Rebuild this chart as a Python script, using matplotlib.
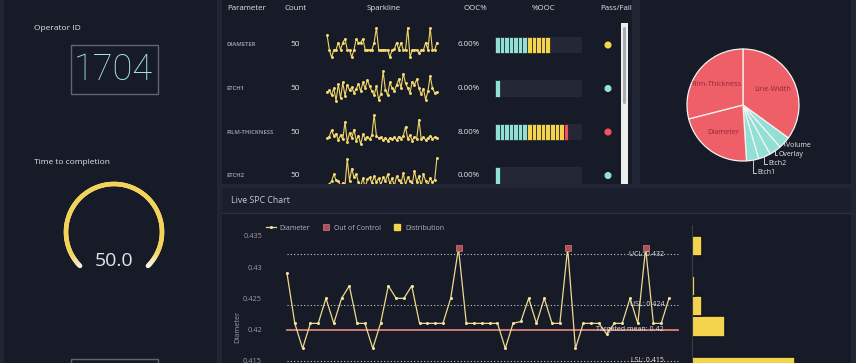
import numpy as np
import matplotlib.pyplot as plt
from matplotlib.patches import Rectangle, FancyBboxPatch
from matplotlib.lines import Line2D
from matplotlib.collections import LineCollection
import matplotlib.transforms as mtransforms

plt.rcParams['font.family'] = ['Open Sans', 'DejaVu Sans']

W, H = 856, 363

# ---------------- data ----------------
operator_id = "1704"
time_value = 50.0
time_max = 50.0

params = ["DIAMETER", "ETCH1", "FILM-THICKNESS", "ETCH2"]
counts = [50, 50, 50, 50]
ooc_pct = [6.00, 0.00, 8.00, 0.00]

diameter = [0.429, 0.421, 0.417, 0.421, 0.421, 0.425, 0.421, 0.425, 0.427, 0.421,
            0.421, 0.417, 0.421, 0.427, 0.425, 0.425, 0.427, 0.421, 0.421, 0.421,
            0.421, 0.425, 0.433, 0.421, 0.421, 0.421, 0.421, 0.421, 0.417, 0.421,
            0.4213, 0.425, 0.421, 0.425, 0.421, 0.421, 0.433, 0.417, 0.421, 0.421,
            0.421, 0.4193, 0.421, 0.421, 0.425, 0.421, 0.433, 0.421, 0.421, 0.425]
etch1 = [4.6, 5.0, 3.8, 5.6, 2.4, 6.6, 3.0, 7.0, 3.6, 6.4, 5.0, 5.8, 4.4, 5.4, 6.6,
         4.8, 7.0, 5.6, 7.6, 6.0, 4.8, 3.8, 6.0, 2.6, 4.2, 9.8, 5.2, 3.8, 7.0, 5.6,
         4.8, 6.4, 7.8, 5.6, 9.2, 6.8, 5.6, 4.4, 7.2, 6.4, 7.8, 5.6, 4.0, 5.4, 2.6,
         4.8, 8.6, 5.6, 4.4, 4.6]
film_thickness = [3.0, 3.4, 5.2, 3.6, 4.2, 2.4, 3.8, 2.6, 7.6, 1.8, 4.4, 3.0, 5.4, 2.2,
                  3.6, 1.2, 4.0, 2.8, 3.4, 2.6, 3.8, 9.6, 3.6, 3.0, 3.2, 2.4, 3.0, 2.2,
                  3.0, 2.6, 3.2, 2.4, 3.4, 2.8, 3.6, 6.2, 2.6, 3.8, 2.2, 3.4, 2.8, 8.2,
                  2.6, 3.2, 2.4, 3.0, 3.6, 2.8, 3.2, 3.0]
etch2 = [0.6, 1.4, 2.0, 3.4, 2.2, 2.0, 1.0, 1.6, 1.2, 6.6, 2.0, 4.6, 2.8, 3.4, 1.8,
         1.0, 2.6, 0.6, 2.4, 2.8, 1.6, 3.0, 1.8, 2.6, 1.2, 2.8, 2.0, 3.4, 1.4, 2.6,
         1.0, 3.0, 2.2, 1.6, 3.6, 1.2, 2.8, 2.0, 1.4, 4.2, 1.8, 3.0, 1.0, 3.4, 2.0,
         1.2, 2.6, 1.8, 2.2, 6.8]
sparklines = [diameter, etch1, film_thickness, etch2]

pie_labels = ["Line-Width", "Volume", "Overlay", "Etch2", "Etch1", "Diameter", "Film-Thickness"]
pie_values = [35, 3.5, 3.5, 3.5, 3.5, 22, 29]
pie_failed = [True, False, False, False, False, True, True]

ucl, usl, target_mean, lsl = 0.432, 0.424, 0.42, 0.415
spc_ticks = [0.415, 0.42, 0.425, 0.43, 0.435]
spc_tick_labels = ["0.415", "0.42", "0.425", "0.43", "0.435"]

hist_edges = [0.4123, 0.4156, 0.4189, 0.4221, 0.4253, 0.4285, 0.4318, 0.435]
hist_counts = [31, 0, 10, 3, 1, 0, 3]

# ---------------- colours ----------------
YEL = '#f4d44d'
TEAL = '#92e0d3'
RED = '#f45060'
PANEL = '#171b27'
GAP = '#222634'
TXT = '#e4e4e8'
GREY = '#9a9ca6'


def px(x, y, w, h):
    return [x / W, 1 - (y + h) / H, w / W, h / H]


def ooc_color(v):
    if v < 3.5:
        return TEAL
    if v < 7.5:
        return YEL
    return RED


fig = plt.figure(figsize=(W / 100, H / 100), dpi=100, facecolor=GAP)

# background panels
bg = fig.add_axes([0, 0, 1, 1], zorder=0)
bg.set_xlim(0, W)
bg.set_ylim(H, 0)
bg.axis('off')
for (x, y, w, h) in [(4, -5, 213, 375), (222, -5, 410, 189), (640, -5, 211, 189)]:
    bg.add_patch(Rectangle((x, y), w, h, color=PANEL, lw=0))

# left panel
bg.text(34, 28, "Operator ID", fontsize=6, color=TXT, va='center')
bg.add_patch(Rectangle((71, 45), 87, 49, fill=False, ec='#62666f', lw=1))
bg.text(153, 70, operator_id, ha='right', va='center', fontsize=26, color='#a8e8de',
        family=['Roboto', 'DejaVu Sans'], weight='light')
bg.text(34, 162, "Time to completion", fontsize=6, color=TXT, va='center')
bg.add_patch(Rectangle((71, 359), 87, 20, fill=False, ec='#62666f', lw=1))

gax = fig.add_axes(px(60, 178, 108, 108), zorder=1)
gax.set_xlim(-1.125, 1.125)
gax.set_ylim(-1.125, 1.125)
gax.axis('off')
theta = np.radians(np.linspace(225, 225 - 270 * time_value / time_max, 201))
pts = np.column_stack([np.cos(theta), np.sin(theta)])
segs = np.stack([pts[:-1], pts[1:]], axis=1)
t = np.linspace(0, 1, len(segs))
edge = np.clip(np.minimum(t, 1 - t) / 0.07, 0, 1)
c_end = np.array([0.97, 0.95, 0.88])
c_mid = np.array([0.95, 0.83, 0.36])
cols = [tuple(c_end + (c_mid - c_end) * e) for e in edge]
gax.add_collection(LineCollection(segs, colors=cols, linewidths=3.3, capstyle='round'))
gax.text(0, -0.6, f"{time_value:.1f}", ha='center', va='center', fontsize=14, color=TXT)

# table header
headers = ["Parameter", "Count", "Sparkline", "OOC%", "%OOC", "Pass/Fail"]
head_x = [227, 296, 384, 475, 544, 616]
for h_, hx in zip(headers, head_x):
    bg.text(hx, 9, h_, fontsize=5.7, color=TXT, va='center',
            ha='left' if h_ == "Parameter" else 'center')

row_y = [45, 88.5, 132, 175.5]
for i, name in enumerate(params):
    bg.text(227, row_y[i], name, fontsize=4.2, color='#8d919e', va='center', weight='bold')
    bg.text(295, row_y[i], str(counts[i]), fontsize=6, color=TXT, va='center', ha='center')
    bg.text(469, row_y[i], f"{ooc_pct[i]:.2f}%", fontsize=5.8, color=TXT, va='center', ha='center')

    sax = fig.add_axes(px(326, row_y[i] - 19, 112, 33), zorder=1)
    sax.plot(range(len(sparklines[i])), sparklines[i], color='#f0d468', lw=0.8,
             marker='o', ms=2.1, mfc='#f6dc74', mec='none')
    sax.margins(0.01, 0.06)
    sax.axis('off')

# %OOC graduated bars
bax = fig.add_axes(px(495, 23.25, 87, 174), zorder=1)
bax.set_xlim(0, 9.5)
bax.set_ylim(3.5, -0.5)
bax.axis('off')
bax.barh(range(len(params)), [9.5] * len(params), height=0.38, color='#232736')
step = 0.5
for i, v in enumerate(ooc_pct):
    n = max(1, int(round(v / step)))
    lefts = np.arange(n) * step
    bax.barh([i] * n, [step] * n, left=lefts, height=0.38,
             color=[ooc_color(l + step / 2) for l in lefts], edgecolor=PANEL, lw=0.5)

# pass / fail dots
dax = fig.add_axes(px(598, 23.25, 20, 174), zorder=1)
dax.set_xlim(-1, 1)
dax.set_ylim(3.5, -0.5)
dax.axis('off')
dax.scatter([0] * len(params), range(len(params)), s=26,
            c=[ooc_color(v) for v in ooc_pct], edgecolors='none')

# scrollbar
bg.add_patch(Rectangle((621, 23), 7, 165, color='#eeeeee', lw=0))
bg.add_patch(FancyBboxPatch((623, 27), 3, 77, boxstyle='round,pad=0,rounding_size=1.5',
                            color='#a9abb0', lw=0))

# pie
pax = fig.add_axes(px(743 - 62, 105 - 62, 124, 124), zorder=1)
wedges, _ = pax.pie(pie_values, colors=['#ef5f68' if f else TEAL for f in pie_failed],
                    startangle=90, counterclock=False, radius=1,
                    wedgeprops=dict(edgecolor='#f4f4f4', linewidth=0.9))
pax.set_xlim(-1.107, 1.107)
pax.set_ylim(-1.107, 1.107)
outside_pos = {"Volume": (0.77, -0.73), "Overlay": (0.63, -0.89),
               "Etch2": (0.45, -1.05), "Etch1": (0.25, -1.21)}
for w_, lab in zip(wedges, pie_labels):
    mid = np.radians((w_.theta1 + w_.theta2) / 2)
    if lab in outside_pos:
        tx, ty = outside_pos[lab]
        ex, ey = np.cos(mid), np.sin(mid)
        if lab == "Volume":
            pax.plot([ex, tx - 0.02], [ey, ty], color='#e8e8e8', lw=0.6, clip_on=False)
        else:
            pax.plot([ex, ex, tx - 0.02], [ey, ty, ty], color='#e8e8e8', lw=0.6, clip_on=False)
        pax.text(tx, ty, lab, fontsize=5, color='#e8e8e8', va='center', ha='left')
    else:
        pax.text(0.6 * np.cos(mid), 0.6 * np.sin(mid), lab, fontsize=5.2,
                 color='#8a2a35', ha='center', va='center')

# lower SPC panel
low = fig.add_axes(px(217, 184, 639, 179), zorder=2)
low.set_xlim(217, 856)
low.set_ylim(363, 184)
low.axis('off')
low.add_patch(Rectangle((217, 184), 639, 179, color=GAP, lw=0))
low.add_patch(Rectangle((222, 188), 629, 180, color=PANEL, lw=0))
low.add_patch(Rectangle((222, 188), 629, 25, color='#1b1f2d', lw=0))
low.plot([222, 851], [213.5, 213.5], color='#2c303e', lw=1)
low.text(231, 201, "Live SPC Chart", fontsize=6.3, color='#c9cbd2', va='center')

spc = fig.add_axes(px(280, 225, 408, 138), zorder=3)
spc.set_facecolor('none')
x = np.arange(1, len(diameter) + 1)
y = np.array(diameter)
spc.set_xlim(1 - 7 / 7.796, 1 + 401 / 7.796)
spc.set_ylim(0.41467, 0.43671)
x0, x1 = 7 / 408, 398 / 408
for val in [ucl, usl, lsl]:
    spc.axhline(val, xmin=x0, xmax=x1, color='#c8c8cc', ls=(0, (1, 2)), lw=0.8)
spc.axhline(target_mean, xmin=x0, xmax=x1, color='#d8837a', lw=1.3)
spc.plot(x, y, color='#efd98e', lw=0.9, marker='o', ms=2.2, mfc='#f4e2a0', mec='none', zorder=3)
ooc = y > ucl
spc.plot(x[ooc], y[ooc], 's', ms=5, color='#b04d58', mec='#d47c86', mew=0.5, zorder=4)
trans = mtransforms.blended_transform_factory(spc.transAxes, spc.transData)
line_labels = [("UCL: 0.432", ucl), ("USL: 0.424", usl),
               ("Targeted mean: 0.42", target_mean), ("LSL: 0.415", lsl)]
for txt, val in line_labels:
    spc.text(384 / 408, val, txt, transform=trans, ha='right', va='center',
             fontsize=5, color='#e6e6e6', zorder=5)
spc.set_yticks(spc_ticks)
spc.set_yticklabels(spc_tick_labels)
spc.set_xticks([])
spc.tick_params(axis='y', length=0, pad=13, labelsize=5.3, labelcolor=GREY)
for s in spc.spines.values():
    s.set_visible(False)
spc.set_ylabel("Diameter", fontsize=5.3, color=GREY)
spc.yaxis.set_label_coords((241 - 280) / 408, 0.26)

hax = fig.add_axes(px(692, 225, 154, 138), zorder=3, sharey=spc)
hax.set_facecolor('none')
edges = np.array(hist_edges)
hax.barh(edges[:-1], hist_counts, height=np.diff(edges), align='edge',
         color=YEL, edgecolor='#14171f', lw=1.2)
hax.set_xlim(0, 46.5)
hax.tick_params(left=False, bottom=False, labelleft=False, labelbottom=False)
for s in hax.spines.values():
    s.set_visible(False)
hax.spines['left'].set_visible(True)
hax.spines['left'].set_color('#3a3e4c')
hax.spines['left'].set_linewidth(0.8)

handles = [Line2D([], [], color='#efd98e', lw=0.9, marker='o', ms=2.2, mfc='#f4e2a0', mec='none'),
           Line2D([], [], ls='none', marker='s', ms=5, color='#b04d58', mec='#d47c86', mew=0.5),
           Line2D([], [], ls='none', marker='s', ms=5, color=YEL)]
fig.legend(handles, ["Diameter", "Out of Control", "Distribution"], loc='center left',
           bbox_to_anchor=(266 / W, 1 - 228 / H), ncol=3, frameon=False, fontsize=5,
           labelcolor='#b5b7bf', handlelength=1.5, handletextpad=0.4, columnspacing=1.6,
           borderpad=0, borderaxespad=0)

fig.savefig('out.png', dpi=100, facecolor=GAP)
